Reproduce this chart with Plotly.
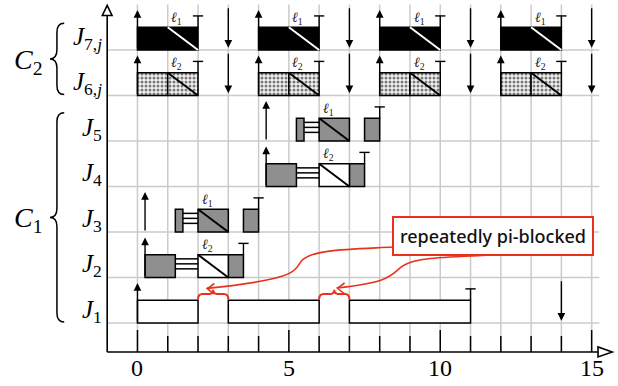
import plotly.graph_objects as go

# ---------------- data ----------------
X_TICKS = list(range(0, 16))
X_MAJOR = [0, 5, 10, 15]
ROWS = [0, 1, 2, 3, 4, 5, 6]
ROW_LABELS = ["<i>J</i><sub>1</sub>", "<i>J</i><sub>2</sub>", "<i>J</i><sub>3</sub>",
              "<i>J</i><sub>4</sub>", "<i>J</i><sub>5</sub>",
              "<i>J</i><sub>6,<i>j</i></sub>", "<i>J</i><sub>7,<i>j</i></sub>"]
CLUSTERS = [("<i>C</i><sub>1</sub>", 0, 4), ("<i>C</i><sub>2</sub>", 5, 6)]

# (row, start, end)
gray_segments = [(4, 5.25, 5.5), (4, 6, 7), (4, 7.5, 8),
                 (3, 4.25, 5.25), (3, 7, 7.5),
                 (2, 1.25, 1.5), (2, 2, 3), (2, 3.5, 4),
                 (1, 0.25, 1.25), (1, 3, 3.5)]
white_segments = [(3, 6, 7), (1, 2, 3), (0, 0, 2), (0, 3, 6), (0, 7, 11)]
black_segments = [(6, 0, 2), (6, 4, 6), (6, 8, 10), (6, 12, 14)]
dotted_segments = [(5, 0, 1), (5, 1, 2), (5, 4, 5), (5, 5, 6),
                   (5, 8, 9), (5, 9, 10), (5, 12, 13), (5, 13, 14)]
blocked_segments = [(4, 5.5, 6), (3, 5.25, 6), (2, 1.5, 2), (1, 1.25, 2)]
# (row, start, end, lock)
critical_sections = [(6, 1, 2, 1), (6, 5, 6, 1), (6, 9, 10, 1), (6, 13, 14, 1),
                     (5, 1, 2, 2), (5, 5, 6, 2), (5, 9, 10, 2), (5, 13, 14, 2),
                     (4, 6, 7, 1), (3, 6, 7, 2), (2, 2, 3, 1), (1, 2, 3, 2)]
releases = [(6, 0), (6, 4), (6, 8), (6, 12), (5, 0), (5, 4), (5, 8), (5, 12),
            (4, 4.25), (3, 4.25), (2, 0.25), (1, 0.25), (0, 0)]
deadlines = [(6, 3), (6, 7), (6, 11), (6, 15), (5, 3), (5, 7), (5, 11), (5, 15), (0, 14)]
completions = [(6, 2), (6, 6), (6, 10), (6, 14), (5, 2), (5, 6), (5, 10), (5, 14),
               (4, 8), (3, 7.5), (2, 4), (1, 3.5), (0, 11)]
pi_blocked = [(0, 2, 3), (0, 6, 7)]
NOTE_TEXT = "repeatedly pi-blocked"

# ---------------- style ----------------
H = 0.5
GRAY = "rgb(143,143,143)"
RED = "#e8321e"
GRID = "#cbcbcb"
SERIF = "Liberation Serif, DejaVu Serif, serif"
X0, X1 = -4.54, 15.87
Y0, Y1 = -1.385, 7.1
AX_Y = -0.637
AX_X = -1.0

fig = go.Figure()
shapes = []
ann = []

# gridlines
for t in X_TICKS:
    shapes.append(dict(type="line", x0=t, x1=t, y0=AX_Y, y1=7.0, layer="below",
                       line=dict(color=GRID, width=1.5)))
for r in ROWS:
    shapes.append(dict(type="line", x0=AX_X, x1=15.25, y0=r, y1=r, layer="below",
                       line=dict(color=GRID, width=1.5)))


def bars(segs, color, pattern=None):
    m = dict(color=color, line=dict(color="black", width=1.5))
    if pattern:
        m["pattern"] = pattern
    fig.add_trace(go.Bar(orientation="h", y=[s[0] + H / 2 for s in segs],
                         base=[s[1] for s in segs], x=[s[2] - s[1] for s in segs],
                         width=[H] * len(segs), marker=m, hoverinfo="skip",
                         showlegend=False))


bars(gray_segments, GRAY)
bars(white_segments, "white")
bars(black_segments, "black")
bars(dotted_segments, "white", dict(shape=".", fgcolor="black", bgcolor="#f2f2f2",
                                    size=4, solidity=0.45))

# blocked (suspended) stripes
for r, s, e in blocked_segments:
    for f in (0.19, 0.30, 0.41):
        shapes.append(dict(type="line", x0=s, x1=e, y0=r + f, y1=r + f,
                           line=dict(color="black", width=1.5)))

# critical sections
for r, s, e, lk in critical_sections:
    c = "white" if r == 6 else "black"
    shapes.append(dict(type="line", x0=s, x1=e, y0=r + H, y1=r,
                       line=dict(color=c, width=2)))
    ann.append(dict(x=s + 0.3, y=r + 0.7, text="<i>ℓ</i><sub>%d</sub>" % lk, showarrow=False,
                    font=dict(family=SERIF, size=14, color="#222")))

# completion markers
for r, x in completions:
    shapes.append(dict(type="line", x0=x, x1=x, y0=r + H, y1=r + 0.75,
                       line=dict(color="black", width=1.4)))
    shapes.append(dict(type="line", x0=x - 0.17, x1=x + 0.17, y0=r + 0.75, y1=r + 0.75,
                       line=dict(color="black", width=1.4)))

# release / deadline arrows
for r, x in releases:
    ann.append(dict(x=x, y=r + 0.88, ax=x, ay=r, axref="x", ayref="y", xref="x", yref="y",
                    text="", showarrow=True, arrowhead=2, arrowsize=1.1, arrowwidth=1.4,
                    arrowcolor="black", standoff=0, startstandoff=0))
for r, x in deadlines:
    ann.append(dict(x=x, y=r + 0.05, ax=x, ay=r + 0.95, axref="x", ayref="y", xref="x",
                    yref="y", text="", showarrow=True, arrowhead=2, arrowsize=1.1,
                    arrowwidth=1.4, arrowcolor="black", standoff=0, startstandoff=0))

# red braces over pi-blocked intervals
for r, s, e in pi_blocked:
    m = (s + e) / 2
    b, f, t = r + 0.52, r + 0.64, r + 0.73
    shapes.append(dict(type="path", line=dict(color=RED, width=2),
                       path=f"M {s},{b} Q {s},{f} {s+0.15},{f} L {m-0.12},{f} "
                            f"Q {m},{f} {m},{t} Q {m},{f} {m+0.12},{f} "
                            f"L {e-0.15},{f} Q {e},{f} {e},{b}"))

# red note with curved arrows
ann.append(dict(x=11.74, y=1.91, text=NOTE_TEXT, showarrow=False,
                font=dict(family="Noto Sans, sans-serif", size=18, color="#111", weight=500),
                bgcolor="white", bordercolor=RED, borderwidth=2, borderpad=6))
curves = [((8.44, 1.67), (7.0, 1.62), (5.7, 1.62), (5.4, 1.35), (5.15, 1.08), (5.0, 0.95),
           (pi_blocked[0][1] + 0.3, 0.76)),
          ((12.57, 1.52), (10.5, 1.45), (9.2, 1.47), (8.75, 1.25), (8.35, 1.05), (8.4, 0.9),
           (pi_blocked[1][1] + 0.6, 0.77))]
for p0, c1, c2, p1, c3, c4, p2 in curves:
    shapes.append(dict(type="path", line=dict(color=RED, width=1.6),
                       path=f"M {p0[0]},{p0[1]} C {c1[0]},{c1[1]} {c2[0]},{c2[1]} {p1[0]},{p1[1]} "
                            f"C {c3[0]},{c3[1]} {c4[0]},{c4[1]} {p2[0]},{p2[1]}"))
    tx, ty = p2
    shapes.append(dict(type="path", line=dict(color=RED, width=1.6),
                       path=f"M {tx+0.24},{ty+0.11} Q {tx+0.08},{ty+0.02} {tx},{ty} "
                            f"Q {tx+0.08},{ty-0.05} {tx+0.22},{ty-0.12}"))

# axes
shapes.append(dict(type="line", x0=AX_X, x1=AX_X, y0=AX_Y, y1=6.76,
                   line=dict(color="black", width=1.6)))
shapes.append(dict(type="path", path=f"M {AX_X},6.98 L {AX_X-0.16},6.76 L {AX_X+0.16},6.76 Z",
                   fillcolor="white", line=dict(color="black", width=1.6)))
shapes.append(dict(type="line", x0=AX_X, x1=15.21, y0=AX_Y, y1=AX_Y,
                   line=dict(color="black", width=1.6)))
shapes.append(dict(type="path",
                   path=f"M 15.68,{AX_Y} L 15.21,{AX_Y+0.11} L 15.21,{AX_Y-0.11} Z",
                   fillcolor="white", line=dict(color="black", width=1.6)))
for t in X_TICKS:
    top = -0.154 if t in X_MAJOR else -0.286
    shapes.append(dict(type="line", x0=t, x1=t, y0=AX_Y, y1=top,
                       line=dict(color="black", width=1.5)))
for t in X_MAJOR:
    ann.append(dict(x=t, y=-0.99, text=str(t), showarrow=False,
                    font=dict(family=SERIF, size=24, color="black")))

# row labels
for r, lab in zip(ROWS, ROW_LABELS):
    ann.append(dict(x=-1.1, y=r + 0.26, text=lab, showarrow=False, xanchor="right",
                    font=dict(family=SERIF, size=25, color="black")))

# cluster braces and labels
for lab, r0, r1 in CLUSTERS:
    top = r1 + 0.59 if r0 == 5 else r1 + 0.62
    bot = r0 + 0.02
    mid = (top + bot) / 2
    xr, xm, xl = -2.42, -2.66, -2.89
    d = 0.2
    shapes.append(dict(type="path", line=dict(color="black", width=1.5),
                       path=f"M {xr},{top} Q {xm},{top} {xm},{top-d} L {xm},{mid+d} "
                            f"Q {xm},{mid} {xl},{mid} Q {xm},{mid} {xm},{mid-d} "
                            f"L {xm},{bot+d} Q {xm},{bot} {xr},{bot}"))
    ann.append(dict(x=-3.6, y=mid - 0.05, text=lab, showarrow=False,
                    font=dict(family=SERIF, size=28, color="black")))

fig.update_layout(
    width=618, height=386, margin=dict(l=0, r=0, t=0, b=0),
    paper_bgcolor="white", plot_bgcolor="white", barmode="overlay",
    xaxis=dict(range=[X0, X1], visible=False, fixedrange=True),
    yaxis=dict(range=[Y0, Y1], visible=False, fixedrange=True),
    shapes=shapes, annotations=ann, showlegend=False,
)
fig.write_html("out.html", post_script="document.body.style.margin='0px';",
               config={"displayModeBar": False})
